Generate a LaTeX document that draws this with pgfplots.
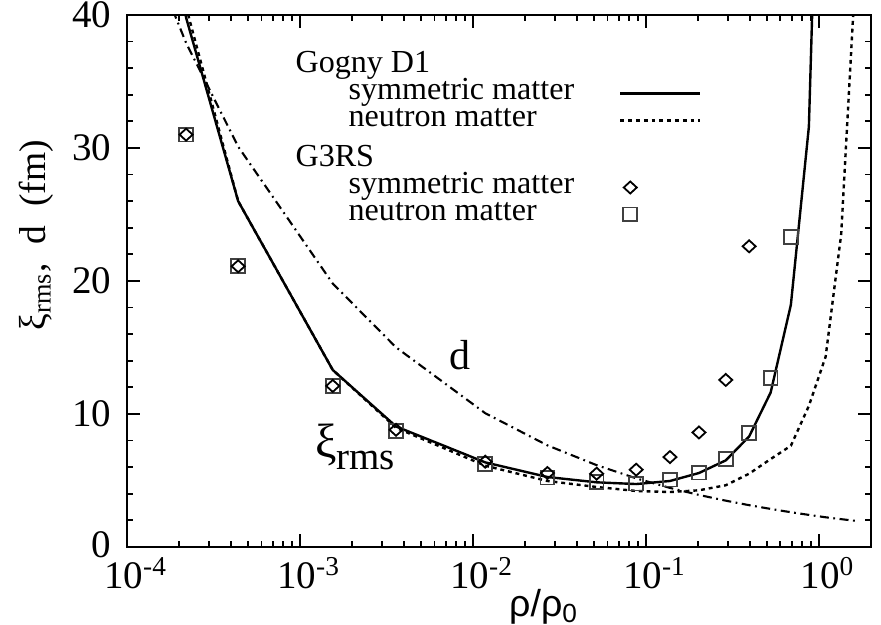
\documentclass[border=0pt]{standalone}
\usepackage{fontspec}
\setmainfont{Liberation Serif}
\setsansfont{Liberation Sans}
\usepackage{pgfplots}
\pgfplotsset{compat=1.18}
\usepackage{pgfplotstable}

\pgfplotstableread{
x y
1.37e-4 56
2.2e-4 39.8
4.4e-4 26.0
1.55e-3 13.3
3.6e-3 9.05
0.0118 6.35
0.027 5.25
0.052 4.85
0.088 4.72
0.138 4.95
0.203 5.55
0.290 6.5
0.396 8.3
0.527 11.6
0.69 18.2
0.877 31.6
1.096 74.6
}\gognysym

\pgfplotstableread{
x y
2.2e-4 40.6
4.4e-4 26.0
1.55e-3 13.3
3.6e-3 8.95
0.0118 6.1
0.027 4.95
0.052 4.5
0.088 4.2
0.138 4.12
0.203 4.25
0.290 4.63
0.396 5.5
0.527 6.6
0.69 7.6
0.877 10.6
1.096 14.3
1.348 23.5
1.636 43.5
}\gognyneu

\pgfplotstableread{
x y
1.37e-4 44.5
2.2e-4 37.9
4.4e-4 30.1
1.55e-3 19.8
3.6e-3 15.0
0.0118 10.05
0.027 7.63
0.052 6.14
0.088 5.15
0.138 4.43
0.203 3.9
0.290 3.47
0.396 3.13
0.527 2.85
0.69 2.6
0.877 2.4
1.096 2.22
1.348 2.08
1.636 1.95
}\dist

\pgfplotstableread{
x y
2.2e-4 31.0
4.4e-4 21.1
1.55e-3 12.1
3.6e-3 8.8
0.0118 6.4
0.027 5.55
0.052 5.5
0.088 5.8
0.138 6.75
0.203 8.6
0.290 12.55
0.396 22.6
}\gsym

\pgfplotstableread{
x y
2.2e-4 31.0
4.4e-4 21.1
1.55e-3 12.1
3.6e-3 8.7
0.0118 6.25
0.027 5.2
0.052 4.88
0.088 4.75
0.138 5.05
0.203 5.58
0.290 6.6
0.396 8.58
0.527 12.7
0.69 23.3
}\gneu

\pgfplotsset{
  linelegend/.style={legend image code/.code={\draw[##1] (0pt,0pt) -- (26.7pt,0pt);}},
  marklegend/.style={legend image code/.code={\draw[##1] plot coordinates {(3.3pt,0pt)};}},
  symline/.style={black, line width=0.8pt},
  neuline/.style={black, line width=0.8pt, dash pattern=on 1.3pt off 1.3pt},
  dline/.style={black, line width=0.7pt, dash pattern=on 3pt off 1.5pt on 0.6pt off 1.5pt},
  diam/.style={black, only marks, mark=diamond, mark size=2pt, mark options={solid, xscale=1.45, line width=0.6pt}},
  squ/.style={black!75, only marks, mark=square, mark size=2.3pt, mark options={solid, line width=0.6pt}},
}

\begin{document}
\fontsize{10.7}{12}\selectfont
\begin{tikzpicture}
\begin{axis}[
  scale only axis, width=248pt, height=177.3pt,
  xmode=log, xmin=1e-4, xmax=2, ymin=0, ymax=40,
  xtick={1e-4,1e-3,1e-2,1e-1,1},
  xticklabels={10\textsuperscript{-4},10\textsuperscript{-3},10\textsuperscript{-2},10\textsuperscript{-1},10\textsuperscript{0}},
  minor xtick={2e-4,3e-4,4e-4,5e-4,6e-4,7e-4,8e-4,9e-4,2e-3,3e-3,4e-3,5e-3,6e-3,7e-3,8e-3,9e-3,2e-2,3e-2,4e-2,5e-2,6e-2,7e-2,8e-2,9e-2,0.2,0.3,0.4,0.5,0.6,0.7,0.8,0.9},
  ytick={0,10,20,30,40}, yticklabels={\raisebox{1.5pt}{0},10,20,30,40},
  minor ytick={2,4,6,8,12,14,16,18,22,24,26,28,32,34,36,38},
  major tick length=4.3pt, minor tick length=2pt,
  tick style={line width=0.6pt, black},
  axis line style={line width=0.7pt},
  tick label style={font=\fontsize{13}{13}\selectfont},
  label style={font=\fontsize{12.5}{14}\selectfont},
  xticklabel style={xshift=3pt, inner ysep=3.4pt},
  yticklabel style={xshift=-1.5pt, inner ysep=0pt},
  xlabel={\sffamily ρ/ρ\textsubscript{0}},
  xlabel style={inner ysep=0pt, xshift=15pt, yshift=3.5pt},
  ylabel={ξ\textsubscript{rms},\ \ d\ \ (fm)},
  ylabel style={at={(axis description cs:-0.122,0.586)}, anchor=center},
  legend style={draw=none, fill=none, at={(axis description cs:0.226,0.93)}, anchor=north west,
    inner sep=0pt, column sep=15pt, row sep=0pt,
    nodes={inner sep=0pt, text height=6.6pt, text depth=2.4pt}},
  legend cell align=left,
  legend plot pos=right,
]
\addplot[symline, forget plot] table {\gognysym};
\addplot[neuline, forget plot] table {\gognyneu};
\addplot[dline, forget plot] table {\dist};
\addplot[squ, forget plot] table {\gneu};
\addplot[diam, forget plot] table {\gsym};

\addlegendimage{empty legend}
\addlegendentry{Gogny D1}
\addlegendimage{symline, linelegend}
\addlegendentry{\hspace*{17.7pt}symmetric matter}
\addlegendimage{neuline, linelegend}
\addlegendentry{\hspace*{17.7pt}neutron matter}
\addlegendimage{empty legend}
\addlegendentry[text height=11pt]{G3RS}
\addlegendimage{diam, marklegend}
\addlegendentry{\hspace*{17.7pt}symmetric matter}
\addlegendimage{squ, marklegend}
\addlegendentry{\hspace*{17.7pt}neutron matter}

\node at (axis cs:8.48e-3,14.4) {\fontsize{14}{14}\selectfont d};
\node at (axis cs:2.09e-3,7.5) {{\fontsize{16}{16}\selectfont ξ}\raisebox{-4pt}{\fontsize{13}{13}\selectfont rms}};
\end{axis}
\path (current axis.south west) +(-42.3pt,-24pt);
\path (current axis.north east) +(3.4pt,5pt);
\end{tikzpicture}
\end{document}
